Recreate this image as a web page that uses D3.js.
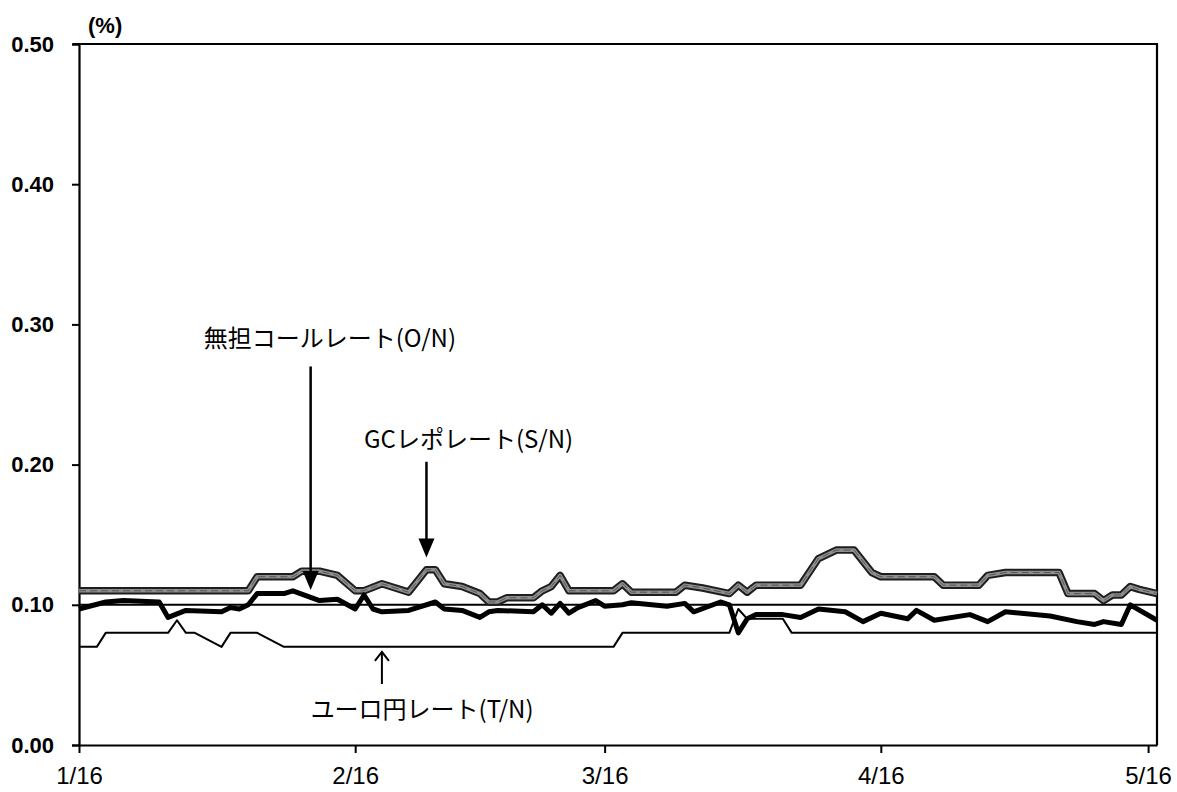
<!DOCTYPE html>
<html>
<head>
<meta charset="utf-8">
<script src="https://cdn.jsdelivr.net/npm/d3@7"></script>
<style>
  html, body { margin: 0; padding: 0; background: #fff; }
  svg { display: block; }
  .tick text { font-family: "Liberation Sans", Arial, sans-serif; fill: #000; }
  .jp { font-family: "Noto Sans CJK JP", sans-serif; fill: #000; }
</style>
</head>
<body>
<svg id="chart" width="1177" height="792"></svg>
<script>
// Short-term money market rates (%), business-day observations, vertices of each line
const YEAR = 2013;

const gcDates = ["1/16","2/4","2/5","2/9","2/10","2/12","2/14","2/16","2/17","2/19","2/22","2/24","2/25","2/26","2/28",
  "3/2","3/3","3/4","3/5","3/8","3/9","3/10","3/11","3/12","3/17","3/18","3/19","3/24","3/25","3/27","3/30","3/31",
  "4/1","4/2","4/7","4/9","4/10","4/11","4/13","4/15","4/16","4/22","4/23","4/27","4/28","4/30",
  "5/6","5/7","5/10","5/11","5/12","5/13","5/14","5/15","5/17"];
const gcValues = [0.110,0.110,0.120,0.120,0.124,0.124,0.121,0.110,0.110,0.115,0.109,0.125,0.125,0.115,0.113,
  0.108,0.102,0.102,0.105,0.105,0.110,0.113,0.121,0.110,0.110,0.115,0.109,0.109,0.114,0.112,0.108,0.114,
  0.109,0.114,0.114,0.133,0.136,0.139,0.139,0.123,0.120,0.120,0.114,0.114,0.121,0.123,
  0.123,0.108,0.108,0.103,0.107,0.107,0.113,0.111,0.108];

const callDates = ["1/16","1/19","1/21","1/25","1/26","1/28","2/1","2/2","2/3","2/4","2/5","2/8","2/9","2/12","2/14",
  "2/16","2/17","2/18","2/19","2/22","2/25","2/26","2/28","3/2","3/3","3/4","3/8","3/9","3/10","3/11","3/12","3/13",
  "3/15","3/16","3/18","3/19","3/23","3/25","3/26","3/29","3/30","3/31",
  "4/1","4/2","4/5","4/7","4/9","4/12","4/14","4/16","4/19","4/20","4/22","4/26","4/28","4/30",
  "5/5","5/8","5/10","5/11","5/13","5/14","5/17"];
const callValues = [0.097,0.102,0.103,0.102,0.091,0.096,0.095,0.098,0.097,0.100,0.108,0.108,0.110,0.103,0.104,
  0.097,0.107,0.097,0.095,0.096,0.102,0.097,0.096,0.091,0.095,0.096,0.095,0.100,0.094,0.101,0.094,0.098,
  0.103,0.099,0.100,0.1015,0.099,0.101,0.095,0.102,0.100,0.080,
  0.090,0.093,0.093,0.091,0.097,0.095,0.088,0.094,0.090,0.096,0.089,0.093,0.088,0.095,
  0.092,0.088,0.086,0.088,0.086,0.100,0.089];

const euroDates = ["1/16","1/18","1/19","1/26","1/27","1/28","1/29","2/1","2/2","2/5","2/8",
  "3/17","3/18","3/30","3/31","4/1","4/5","4/6","5/17"];
const euroValues = [0.070,0.070,0.080,0.080,0.089,0.080,0.080,0.070,0.080,0.080,0.070,
  0.070,0.080,0.080,0.097,0.090,0.090,0.080,0.080];

const policyLevel = 0.10;

const yTicks = [0, 0.1, 0.2, 0.3, 0.4, 0.5];
const xTickLabels = ["1/16", "2/16", "3/16", "4/16", "5/16"];
const xDomain = ["1/16", "5/17"];

// Callout labels: text, arrow tip (date, value), arrow tail value, label anchor (date, value)
const callouts = [
  { text: "無担コールレート(O/N)", tip: ["2/11", 0.1105], tail: 0.270, label: ["1/30", 0.2916], dir: "down" },
  { text: "GCレポレート(S/N)",     tip: ["2/24", 0.1337], tail: 0.202, label: ["2/17", 0.2190], dir: "down" },
  { text: "ユーロ円レート(T/N)",   tip: ["2/19", 0.0665], tail: 0.0435, label: ["2/11", 0.0265], dir: "up" }
];

const parse = s => { const [m, d] = s.split("/").map(Number); return new Date(Date.UTC(YEAR, m - 1, d)); };

const svg = d3.select("#chart");
const plotLeft = 79, plotRight = 1157, plotTop = 44, plotBottom = 745;

const x = d3.scaleUtc().domain(xDomain.map(parse)).range([plotLeft, plotRight]);
const y = d3.scaleLinear().domain([0, 0.5]).range([plotBottom, plotTop]);

// Frame: top and right borders
svg.append("path")
  .attr("d", `M${plotLeft - 6},${y(0.5)}H${plotRight}V${y(0)}`)
  .attr("fill", "none").attr("stroke", "#000").attr("stroke-width", 2.2);

// Y axis
const yAxis = svg.append("g")
  .attr("transform", `translate(${plotLeft},0)`)
  .call(d3.axisLeft(y).tickValues(yTicks).tickFormat(d3.format(".2f")).tickSize(7).tickPadding(18));
yAxis.select(".domain").attr("stroke-width", 2.2);
yAxis.selectAll(".tick line").attr("stroke-width", 2);
yAxis.selectAll(".tick text").attr("font-size", 22).attr("font-weight", "bold");

// X axis
const xAxis = svg.append("g")
  .attr("transform", `translate(0,${plotBottom})`)
  .call(d3.axisBottom(x).tickValues(xTickLabels.map(parse)).tickFormat(d3.utcFormat("%-m/%-d")).tickSize(8).tickPadding(14).tickSizeOuter(0));
xAxis.select(".domain").attr("stroke-width", 2.2);
xAxis.selectAll(".tick line").attr("stroke-width", 2);
xAxis.selectAll(".tick text").attr("font-size", 24).attr("dy", "0.71em");

// Unit label
svg.append("text").attr("x", 88).attr("y", 33)
  .attr("font-family", "Liberation Sans, Arial, sans-serif").attr("font-size", 22).attr("font-weight", "bold")
  .text("(%)");

// 0.10% reference level
svg.append("line")
  .attr("x1", plotLeft).attr("x2", plotRight)
  .attr("y1", y(policyLevel)).attr("y2", y(policyLevel))
  .attr("stroke", "#000").attr("stroke-width", 2);

const line = d3.line().x(d => x(d[0])).y(d => y(d[1])).curve(d3.curveLinear);
const toPts = (dates, vals) => dates.map((d, i) => [parse(d), vals[i]]);

const gcPts = toPts(gcDates, gcValues);
const callPts = toPts(callDates, callValues);
const euroPts = toPts(euroDates, euroValues);

// GC repo: dark-edged grey band
svg.append("path").datum(gcPts).attr("d", line)
  .attr("fill", "none").attr("stroke", "#1e1e1e").attr("stroke-width", 7.5).attr("stroke-linejoin", "round");
svg.append("path").datum(gcPts).attr("d", line)
  .attr("fill", "none").attr("stroke", "#8e8e8e").attr("stroke-width", 3.6).attr("stroke-linejoin", "round");
svg.append("path").datum(gcPts).attr("d", line)
  .attr("fill", "none").attr("stroke", "#555").attr("stroke-width", 1).attr("stroke-dasharray", "7,4");

// Euro-yen T/N: thin line
svg.append("path").datum(euroPts).attr("d", line)
  .attr("fill", "none").attr("stroke", "#000").attr("stroke-width", 2).attr("stroke-linejoin", "round");

// Uncollateralized call O/N: heavy line
svg.append("path").datum(callPts).attr("d", line)
  .attr("fill", "none").attr("stroke", "#000").attr("stroke-width", 5).attr("stroke-linejoin", "round");

// Callouts
callouts.forEach(c => {
  const tx = x(parse(c.tip[0])), ty = y(c.tip[1]);
  const ay = y(c.tail);
  const g = svg.append("g");
  if (c.dir === "down") {
    g.append("line").attr("x1", tx).attr("x2", tx).attr("y1", ay).attr("y2", ty - 12)
      .attr("stroke", "#000").attr("stroke-width", 2.5);
    g.append("path").attr("d", `M${tx},${ty}L${tx - 8},${ty - 19}L${tx + 8},${ty - 19}Z`).attr("fill", "#000");
  } else {
    g.append("line").attr("x1", tx).attr("x2", tx).attr("y1", ay).attr("y2", ty)
      .attr("stroke", "#000").attr("stroke-width", 2);
    g.append("path").attr("d", `M${tx - 7},${ty + 9}L${tx},${ty}L${tx + 7},${ty + 9}`)
      .attr("fill", "none").attr("stroke", "#000").attr("stroke-width", 2);
  }
  g.append("text").attr("class", "jp")
    .attr("x", x(parse(c.label[0]))).attr("y", y(c.label[1]))
    .attr("dominant-baseline", "central")
    .attr("font-size", 24)
    .text(c.text);
});
</script>
</body>
</html>
